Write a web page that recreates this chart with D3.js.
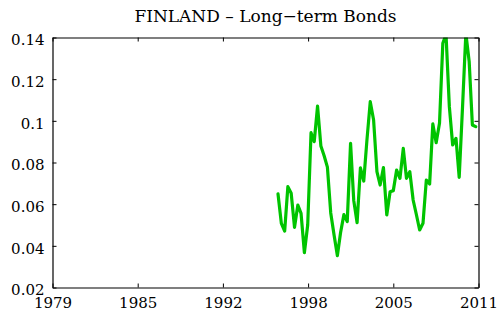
<!DOCTYPE html>
<html>
<head>
<meta charset="utf-8">
<script src="https://cdn.jsdelivr.net/npm/d3@7"></script>
<style>
  html, body { margin: 0; padding: 0; background: #fff; }
  svg { display: block; }
</style>
</head>
<body>
<svg id="chart" width="502" height="322"></svg>
<script>
// Finnish long-term government bond yields (decimal), sampled roughly quarterly
const years = [
  1995.94, 1996.19, 1996.44, 1996.68, 1996.93, 1997.18, 1997.43, 1997.67, 1997.92, 1998.17,
  1998.42, 1998.66, 1998.91, 1999.16, 1999.41, 1999.65, 1999.90, 2000.15, 2000.40, 2000.64,
  2000.89, 2001.14, 2001.39, 2001.63, 2001.88, 2002.13, 2002.38, 2002.62, 2002.87, 2003.12,
  2003.37, 2003.61, 2003.86, 2004.11, 2004.36, 2004.60, 2004.85, 2005.10, 2005.35, 2005.59,
  2005.84, 2006.09, 2006.34, 2006.58, 2006.83, 2007.08, 2007.33, 2007.57, 2007.82, 2008.07,
  2008.32, 2008.56, 2008.81, 2009.06, 2009.31, 2009.55, 2009.80, 2010.05, 2010.30, 2010.54,
  2010.79
];
const yields = [
  0.0649, 0.0508, 0.0471, 0.0684, 0.0652, 0.0489, 0.0596, 0.0556, 0.0367, 0.0500,
  0.0943, 0.0900, 0.1071, 0.0879, 0.0831, 0.0778, 0.0558, 0.0452, 0.0353, 0.0464,
  0.0550, 0.0516, 0.0892, 0.0617, 0.0511, 0.0774, 0.0711, 0.0908, 0.1092, 0.1004,
  0.0756, 0.0692, 0.0776, 0.0548, 0.0660, 0.0665, 0.0764, 0.0724, 0.0868, 0.0724,
  0.0756, 0.0620, 0.0548, 0.0476, 0.0508, 0.0716, 0.0697, 0.0985, 0.0895, 0.0988,
  0.1372, 0.1415, 0.1068, 0.0884, 0.0916, 0.0729, 0.1066, 0.1420, 0.1284, 0.0980,
  0.0972
];

const xTickValues = [1979, 1985.4, 1991.8, 1998.2, 2004.6, 2011];
const xTickLabels = ["1979", "1985", "1992", "1998", "2005", "2011"];
const yTickValues = [0.02, 0.04, 0.06, 0.08, 0.1, 0.12, 0.14];
const yTickLabels = ["0.02", "0.04", "0.06", "0.08", "0.1", "0.12", "0.14"];
const title = "FINLAND \u2013 Long\u2212term Bonds";

const FONT = "DejaVu Serif";

const svg = d3.select("#chart");
const L = 52.5, R = 478.5, T = 37.5, B = 287.5;

const x = d3.scaleLinear().domain([1979, 2011]).range([L, R]);
const y = d3.scaleLinear().domain([0.02, 0.14]).range([B, T]);

svg.append("rect").attr("width", 502).attr("height", 322).attr("fill", "#fff");

svg.append("defs").append("clipPath").attr("id", "plotclip")
  .append("rect").attr("x", L).attr("y", T).attr("width", R - L).attr("height", B - T);

// Series line, clipped to the plot box
svg.append("path")
  .datum(years.map((t, i) => [t, yields[i]]))
  .attr("clip-path", "url(#plotclip)")
  .attr("fill", "none")
  .attr("stroke", "#00c400")
  .attr("stroke-width", 3.2)
  .attr("stroke-linejoin", "round")
  .attr("stroke-linecap", "round")
  .attr("d", d3.line().x(d => x(d[0])).y(d => y(d[1])));

const tickLen = 4;
const fmtX = (d, i) => xTickLabels[i];
const fmtY = (d, i) => yTickLabels[i];

function styleAxis(g) {
  g.attr("font-family", FONT).attr("font-size", 15);
  g.select(".domain").attr("stroke", "#000").attr("stroke-width", 1.2);
  g.selectAll(".tick line").attr("stroke", "#000").attr("stroke-width", 1);
  g.selectAll(".tick text").attr("fill", "#000");
}

// Bottom axis with labels, ticks pointing inward
svg.append("g").attr("transform", `translate(0,${B})`)
  .call(d3.axisBottom(x).tickValues(xTickValues).tickFormat(fmtX)
    .tickSize(-tickLen).tickSizeOuter(0).tickPadding(7))
  .call(styleAxis)
  .call(g => g.selectAll(".tick text").attr("dy", "0.92em"));

// Top axis, ticks only
svg.append("g").attr("transform", `translate(0,${T})`)
  .call(d3.axisTop(x).tickValues(xTickValues).tickFormat("")
    .tickSize(-tickLen).tickSizeOuter(0))
  .call(styleAxis);

// Left axis with labels
svg.append("g").attr("transform", `translate(${L},0)`)
  .call(d3.axisLeft(y).tickValues(yTickValues).tickFormat(fmtY)
    .tickSize(-tickLen).tickSizeOuter(0).tickPadding(8))
  .call(styleAxis)
  .call(g => g.selectAll(".tick text").attr("dy", "0.48em"));

// Right axis, ticks only
svg.append("g").attr("transform", `translate(${R},0)`)
  .call(d3.axisRight(y).tickValues(yTickValues).tickFormat("")
    .tickSize(-tickLen).tickSizeOuter(0))
  .call(styleAxis);

// Title
svg.append("text")
  .attr("x", (L + R) / 2)
  .attr("y", 21.5)
  .attr("text-anchor", "middle")
  .attr("font-family", FONT)
  .attr("font-size", 17)
  .attr("fill", "#000")
  .text(title);
</script>
</body>
</html>
